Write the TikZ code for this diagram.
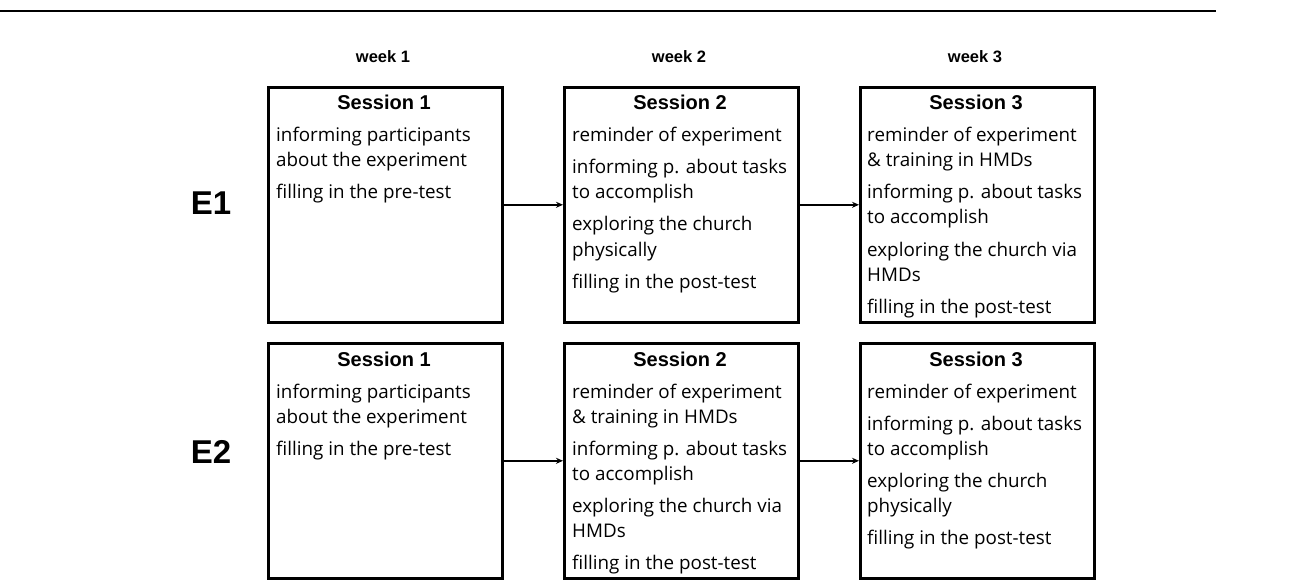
\documentclass[tikz,border=0pt]{standalone}
\usepackage{fontspec}
\setmainfont{Open Sans}
\newfontfamily\headfont{Liberation Sans}
\usetikzlibrary{arrows.meta}
\tikzset{
  box/.style={draw, line width=2.6pt, minimum width=234pt, minimum height=235pt, inner sep=0pt, anchor=north west},
  title/.style={font=\headfont\bfseries\fontsize{20}{24}\selectfont, anchor=base, inner sep=0pt},
  item/.style={font=\fontsize{18.8}{25}\selectfont, anchor=base west, inner sep=0pt},
  week/.style={font=\headfont\bfseries\fontsize{16.5}{19}\selectfont, anchor=base, inner sep=0pt},
  grp/.style={font=\headfont\bfseries\fontsize{33}{38}\selectfont, anchor=base, inner sep=0pt},
  flow/.style={-{Stealth[length=7pt,width=6pt]}, line width=1.6pt},
  rule/.style={line width=2.2pt},
}
\begin{document}
\begin{tikzpicture}[x=1pt,y=-1pt]
\useasboundingbox (0,0) rectangle (1292,585);
% top rule
\coordinate (ls) at (0,11);
\coordinate (le) at (1216,11);
\draw[rule] (ls) -- (le);
% week labels
\node[week] (w1) at (383,63) {week 1};
\node[week] (w2) at (679,63) {week 2};
\node[week] (w3) at (975,63) {week 3};
% group labels
\node[grp] (e1) at (211,215) {E1};
\node[grp] (e2) at (211,463) {E2};
% boxes
\node[box] (b11) at (267,86) {};
\node[box] (b12) at (563,86) {};
\node[box] (b13) at (859,86) {};
\node[box] (b21) at (267,342) {};
\node[box] (b22) at (563,342) {};
\node[box] (b23) at (859,342) {};
% titles
\node[title] (b11h) at (384,110) {Session 1};
\node[title] (b12h) at (680,110) {Session 2};
\node[title] (b13h) at (976,110) {Session 3};
\node[title] (b21h) at (384,366) {Session 1};
\node[title] (b22h) at (680,366) {Session 2};
\node[title] (b23h) at (976,366) {Session 3};
% E1 texts
\foreach \dy/\txt [count=\k] in {56/informing participants, 81/about the experiment, 113/filling in the pre-test}
  \node[item] (b11t\k) at (276,86+\dy) {\txt};
\foreach \dy/\txt [count=\k] in {56/reminder of experiment, 88/informing p. about tasks, 113/to accomplish, 145/exploring the church, 170/physically, 202/filling in the post-test}
  \node[item] (b12t\k) at (572,86+\dy) {\txt};
\foreach \dy/\txt [count=\k] in {56/reminder of experiment, 81/\& training in HMDs, 113/informing p. about tasks, 138/to accomplish, 170/exploring the church via, 195/HMDs, 227/filling in the post-test}
  \node[item] (b13t\k) at (867,86+\dy) {\txt};
% E2 texts
\foreach \dy/\txt [count=\k] in {56/informing participants, 81/about the experiment, 113/filling in the pre-test}
  \node[item] (b21t\k) at (276,342+\dy) {\txt};
\foreach \dy/\txt [count=\k] in {56/reminder of experiment, 81/\& training in HMDs, 113/informing p. about tasks, 138/to accomplish, 170/exploring the church via, 195/HMDs, 227/filling in the post-test}
  \node[item] (b22t\k) at (572,342+\dy) {\txt};
\foreach \dy/\txt [count=\k] in {56/reminder of experiment, 88/informing p. about tasks, 113/to accomplish, 145/exploring the church, 170/physically, 202/filling in the post-test}
  \node[item] (b23t\k) at (867,342+\dy) {\txt};
% arrows
\draw[flow] (b11.east) -- (b12.west);
\draw[flow] (b12.east) -- (b13.west);
\draw[flow] (b21.east) -- (b22.west);
\draw[flow] (b22.east) -- (b23.west);
\end{tikzpicture}
\end{document}
